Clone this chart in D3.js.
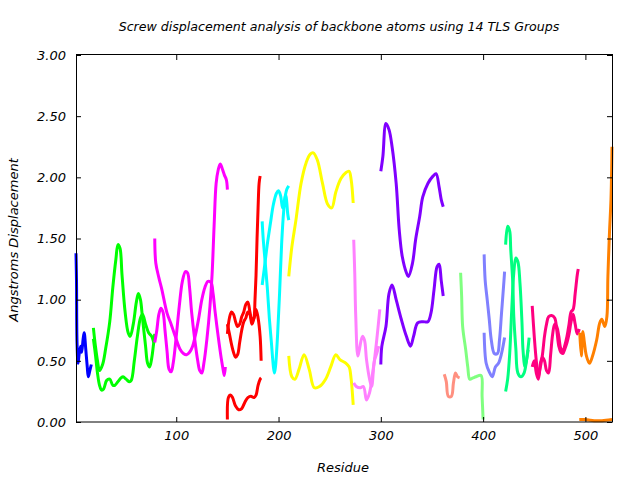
<!DOCTYPE html>
<html><head><meta charset="utf-8">
<script src="https://cdn.jsdelivr.net/npm/d3@7"></script>
<style>
body{margin:0;background:#fff;}
svg text{font-family:"DejaVu Sans",sans-serif;font-style:italic;}
</style></head>
<body><svg id="c" width="640" height="480"></svg>
<script>
// ---- data: [residue, displacement] per curve ----
const blue1 = [[2,1.38],[2.5,1.15],[3,0.65],[4,0.48],[5,0.55],[6.5,0.62],[7.5,0.57],[9,0.68],[10,0.73],[11.5,0.6],[13,0.45],[14,0.37],[15.5,0.42],[17,0.47]];
const green1 = [[19,0.77],[21,0.62],[23,0.5],[25,0.42],[28,0.47],[31,0.6],[35,0.82],[38,1.1],[41,1.33],[43,1.45],[45,1.42],[47,1.2],[50,0.9],[53,0.73],[55,0.7],[58,0.8],[61,0.98],[63,1.05],[65,1.0],[67,0.85],[70,0.62],[72,0.48],[74,0.45],[76,0.52],[78,0.65],[79,0.72]];
const green2 = [[19,0.68],[21,0.55],[23,0.4],[25,0.3],[27,0.26],[29,0.27],[32,0.34],[35,0.35],[38,0.3],[40,0.3],[43,0.33],[46,0.36],[48,0.37],[51,0.35],[54,0.33],[56,0.34],[59,0.5],[62,0.7],[65,0.85],[67,0.88],[70,0.8],[73,0.73],[76,0.7],[78,0.65]];
const magenta1 = [[79,1.5],[80,1.3],[83,1.18],[86,1.08],[91,0.89],[95,0.8],[99,0.7],[104,0.59],[107,0.56],[110,0.55],[113,0.57],[116,0.62],[119,0.72],[122,0.85],[125,1.0],[128,1.1],[131,1.15],[134,1.14],[136,1.05],[138,0.9],[141,0.7],[144,0.52],[146,0.42],[147,0.38],[148,0.45]];
const magenta2 = [[79,0.65],[81,0.75],[83,0.88],[85,0.93],[87,0.9],[89,0.75],[91,0.58],[93,0.43],[95,0.41],[97,0.48],[100,0.7],[103,0.95],[106,1.15],[109,1.23],[111,1.22],[113,1.1],[115,0.9],[118,0.68],[121,0.5],[123,0.42],[125,0.4],[127,0.48],[130,0.68],[133,0.95],[135,1.2],[137,1.6],[139,1.95],[141,2.06],[143,2.11],[145,2.07],[147,2.02],[149,1.98],[150,1.9]];
const red1 = [[150,0.02],[151,0.2],[153,0.22],[155,0.2],[158,0.13],[161,0.1],[164,0.11],[167,0.16],[170,0.2],[173,0.21],[176,0.2],[178,0.22],[180,0.3],[182,0.35],[183,0.36]];
const red2 = [[150,0.72],[152,0.85],[154,0.9],[156,0.88],[158,0.82],[160,0.78],[162,0.8],[164,0.86],[166,0.9],[168,0.96],[170,0.98],[172,0.9],[174,0.83],[176,0.85],[178,0.92],[180,0.85],[182,0.7],[183,0.5]];
const red3 = [[150,0.8],[152,0.72],[155,0.6],[158,0.53],[160,0.55],[162,0.65],[164,0.75],[166,0.82],[168,0.85],[170,0.9],[172,0.88],[174,0.8],[176,0.85],[177,1.0],[178,1.2],[179,1.5],[180,1.75],[181,1.95],[182,2.01]];
const cyan1 = [[184,1.64],[185,1.5],[187,1.3],[189,1.1],[191,0.85],[193,0.65],[195,0.45],[196,0.4],[197,0.45],[199,0.7],[201,1.05],[203,1.45],[205,1.72],[207,1.86],[208,1.8],[209,1.7],[210,1.65]];
const cyan2 = [[184,1.12],[186,1.25],[189,1.45],[192,1.62],[195,1.78],[198,1.87],[200,1.89],[202,1.85],[204,1.75],[206,1.82],[208,1.9],[210,1.93]];
const yellow1 = [[210,1.19],[213,1.43],[217,1.65],[222,1.95],[227,2.12],[231,2.19],[234,2.2],[238,2.14],[243,1.95],[248,1.78],[252,1.75],[256,1.88],[261,1.99],[266,2.04],[269,2.05],[271,1.98],[273,1.79]];
const yellow2 = [[210,0.54],[213,0.37],[216,0.35],[220,0.43],[225,0.55],[230,0.43],[235,0.28],[240,0.29],[246,0.35],[251,0.45],[256,0.55],[260,0.51],[266,0.48],[269,0.45],[271,0.35],[273,0.14]];
const pink1 = [[273.5,1.49],[274.5,1.22],[275.5,0.86],[277.5,0.54],[279,0.59],[282,0.7],[284,0.67],[286,0.51],[289,0.35],[291,0.29],[293,0.45],[296,0.67],[299,0.92]];
const pink2 = [[273.5,0.32],[276,0.29],[280,0.28],[283,0.29],[286,0.18],[289,0.24],[292,0.4],[294,0.51],[296,0.56],[298,0.62]];
const purple1 = [[300,2.05],[302,2.17],[305,2.44],[308,2.39],[311,2.25],[315,1.95],[318,1.57],[321,1.35],[325,1.22],[327,1.19],[331,1.3],[334,1.49],[338,1.68],[341,1.84],[346,1.95],[351,2.01],[354,2.03],[357,1.92],[359,1.82],[361,1.76]];
const purple2 = [[300,0.47],[301,0.62],[305,0.78],[308,1.05],[311,1.12],[315,1.0],[320,0.84],[325,0.7],[329,0.62],[332,0.7],[336,0.81],[341,0.82],[346,0.82],[349,0.89],[352,1.08],[355,1.27],[357,1.29],[359,1.16],[361,1.03]];
const salmon1 = [[362,0.39],[364,0.33],[366,0.21],[369,0.21],[371,0.32],[373,0.4],[375,0.37],[377,0.36]];
const lgreen1 = [[378,1.22],[379,1.03],[380,0.78],[383,0.59],[385,0.45],[387,0.35],[390,0.36],[393,0.37],[398,0.38],[399,0.21],[400,0.02]];
const lblue1 = [[401,1.37],[402,1.16],[404,1.0],[406,0.84],[408,0.67],[411,0.56],[414,0.56],[416,0.67],[418,0.89],[420,1.11],[421,1.23]];
const lblue2 = [[401,0.73],[403,0.48],[406,0.41],[409,0.37],[412,0.45],[415,0.48],[418,0.56],[421,0.69]];
const sgreen1 = [[422,1.45],[424,1.6],[426,1.56],[427,1.41],[429,1.14],[430,0.86],[432,0.6],[434,0.4],[437,0.37],[440,0.4],[443,0.54],[445,0.69]];
const sgreen2 = [[422,0.25],[424,0.35],[426,0.56],[428,0.92],[430,1.22],[432,1.34],[434,1.31],[436,1.14],[438,0.81],[439,0.59],[441,0.45],[444,0.59]];
const dpink1 = [[448,0.95],[450,0.7],[452,0.5],[454,0.37],[456,0.45],[458,0.55],[460,0.7],[462,0.8],[464,0.86],[467,0.87],[470,0.85],[472,0.75],[474,0.62],[476,0.57],[478,0.56],[480,0.6],[482,0.65],[484,0.72],[486,0.82],[488,0.88],[490,0.8],[492,0.72],[494,0.76]];
const dpink2 = [[448,0.45],[450,0.5],[452,0.4],[454,0.35],[456,0.48],[458,0.53],[460,0.5],[462,0.42],[464,0.4],[466,0.55],[468,0.72],[470,0.8],[472,0.78],[474,0.7],[476,0.6],[478,0.58],[480,0.63],[482,0.7],[484,0.8],[486,0.9],[488,0.92],[490,1.05],[492,1.2],[493,1.25]];
const orange1 = [[494.5,0.73],[496,0.54],[497.5,0.74],[499,0.65],[501,0.54],[504,0.48],[507,0.54],[511,0.67],[514,0.81],[516,0.84],[519,0.78],[521,0.86],[522,1.19],[523.5,1.54],[525,1.82],[526,2.25]];
const orange2 = [[494,0.02],[500,0.02],[505,0.015],[510,0.01],[515,0.01],[520,0.015],[526,0.02]];

const series = [blue1,green1,green2,magenta1,magenta2,red1,red2,red3,cyan1,cyan2,yellow1,yellow2,pink1,pink2,purple1,purple2,salmon1,lgreen1,lblue1,lblue2,sgreen1,sgreen2,dpink1,dpink2,orange1,orange2];
const seriesColors = ["#0000ff","#00ff00","#00ff00","#ff00ff","#ff00ff","#ff0000","#ff0000","#ff0000","#00ffff","#00ffff","#ffff00","#ffff00","#ff80ff","#ff80ff","#8000ff","#8000ff","#ff9080","#80ff80","#8080ff","#8080ff","#00ff80","#00ff80","#ff0080","#ff0080","#ff8000","#ff8000"];
const xTicks = [100,200,300,400,500];
const yTicks = [0,0.5,1,1.5,2,2.5,3];
const titleText = "Screw displacement analysis of backbone atoms using 14 TLS Groups";
const xLabel = "Residue";
const yLabel = "Angstroms Displacement";

const svg = d3.select("#c");
const L=76,R=612,T=55,B=422;
const x = d3.scaleLinear().domain([2,526]).range([L,R]);
const y = d3.scaleLinear().domain([0,3]).range([B,T]);

const line = d3.line().x(d=>x(d[0])).y(d=>y(d[1])).curve(d3.curveCatmullRom.alpha(0.5));
const g = svg.append("g");
series.forEach((s,i)=>{
  g.append("path").attr("d",line(s)).attr("fill","none")
   .attr("stroke",seriesColors[i]).attr("stroke-width",3).attr("stroke-linejoin","round");
});

const fmt = d3.format(".2f");
const ax = (a)=>a.call(s=>s.select(".domain").remove()).call(s=>s.selectAll("line").attr("stroke","#000")).call(s=>s.selectAll("text").attr("fill","#000").style("font-size","13px"));
svg.append("g").attr("transform",`translate(0,${B})`).call(d3.axisBottom(x).tickValues(xTicks).tickSize(-5).tickPadding(9)).call(ax);
svg.append("g").attr("transform",`translate(0,${T})`).call(d3.axisTop(x).tickValues(xTicks).tickSize(-5).tickFormat("")).call(ax);
svg.append("g").attr("transform",`translate(${L},0)`).call(d3.axisLeft(y).tickValues(yTicks).tickFormat(fmt).tickSize(-5).tickPadding(10)).call(ax);
svg.append("g").attr("transform",`translate(${R},0)`).call(d3.axisRight(y).tickValues(yTicks).tickSize(-5).tickFormat("")).call(ax);

svg.append("rect").attr("x",L+0.5).attr("y",T-0.5).attr("width",R-L).attr("height",B-T+0.5)
  .attr("fill","none").attr("stroke","#000").attr("stroke-width",1);

svg.append("text").attr("x",339).attr("y",31).attr("text-anchor","middle").style("font-size","12.6px").text(titleText);
svg.append("text").attr("x",343).attr("y",472).attr("text-anchor","middle").style("font-size","13px").text(xLabel);
svg.append("text").attr("transform","translate(18,240) rotate(-90)").attr("text-anchor","middle").style("font-size","13px").text(yLabel);
</script></body></html>
